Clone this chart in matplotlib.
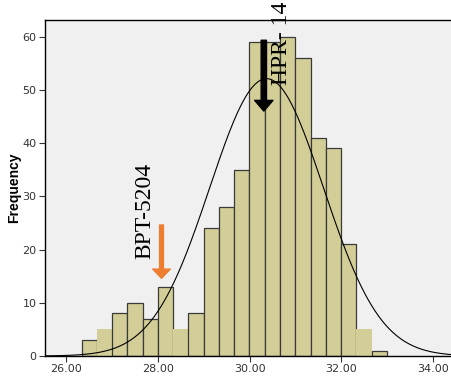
import numpy as np
import matplotlib.pyplot as plt

# histogram bins (lower edges) and counts
bin_start = 26.34
bin_width = 0.3325
counts = [3, 5, 8, 10, 7, 13, 5, 8, 24, 28, 35, 59, 59, 60, 56, 41, 39, 21, 5, 1]

# fitted normal curve
curve_mean = 30.37
curve_sd = 1.24

x_ticks = [26, 28, 30, 32, 34]
x_ticklabels = ["26.00", "28.00", "30.00", "32.00", "34.00"]
y_ticks = [0, 10, 20, 30, 40, 50, 60]

bar_color = "#d3ce97"
bg_color = "#f0f0f0"

fig = plt.figure(figsize=(4.51, 3.78), dpi=100)
ax = fig.add_axes([45 / 451, 22 / 378, 1 - 45 / 451, 336.5 / 378])
ax.set_facecolor(bg_color)

edges = bin_start + bin_width * np.arange(len(counts))
for left, c in zip(edges, counts):
    # SPSS drew the count-5 bars without a dark outline
    ec = "none" if c == 5 else "#3a3a3a"
    ax.bar(left, c, width=bin_width, align="edge", color=bar_color,
           edgecolor=ec, linewidth=0.9, zorder=2)

n = sum(counts)
xs = np.linspace(25.54, 34.39, 400)
ys = n * bin_width / (curve_sd * np.sqrt(2 * np.pi)) * np.exp(-0.5 * ((xs - curve_mean) / curve_sd) ** 2)
ax.plot(xs, ys, color="black", lw=0.8, zorder=3)

ax.set_xlim(25.54, 34.39)
ax.set_ylim(0, 63.2)
ax.set_xticks(x_ticks)
ax.set_xticklabels(x_ticklabels)
ax.set_yticks(y_ticks)
ax.tick_params(labelsize=8, colors="#333333", length=4, width=0.8, pad=2)
ax.spines["right"].set_visible(False)
for s in ["left", "top", "bottom"]:
    ax.spines[s].set_linewidth(1.0)
    ax.spines[s].set_color("black")

ax.set_ylabel("Frequency", fontsize=10, fontweight="bold", family="Liberation Sans")
ax.yaxis.set_label_coords(-0.058, 0.5)

# annotations
ax.annotate("", xy=(28.08, 14.6), xytext=(28.08, 24.6),
            arrowprops=dict(arrowstyle="simple,head_length=0.6,head_width=1.15,tail_width=0.25",
                            color="#ee7d31", mutation_scale=11, shrinkA=0, shrinkB=0), zorder=5)
ax.annotate("", xy=(30.31, 46.0), xytext=(30.31, 59.3),
            arrowprops=dict(arrowstyle="simple,head_length=0.7,head_width=1.2,tail_width=0.35",
                            color="black", mutation_scale=11, shrinkA=0, shrinkB=0), zorder=5)
ax.text(27.72, 27.2, "BPT-5204", rotation=90, ha="center", va="center",
        fontsize=17, family="Liberation Serif", zorder=5)
ax.text(30.70, 58.7, "HPR- 14", rotation=90, ha="center", va="center",
        fontsize=17, family="Liberation Serif", zorder=5, clip_on=False)

fig.savefig("out.png", dpi=100)
